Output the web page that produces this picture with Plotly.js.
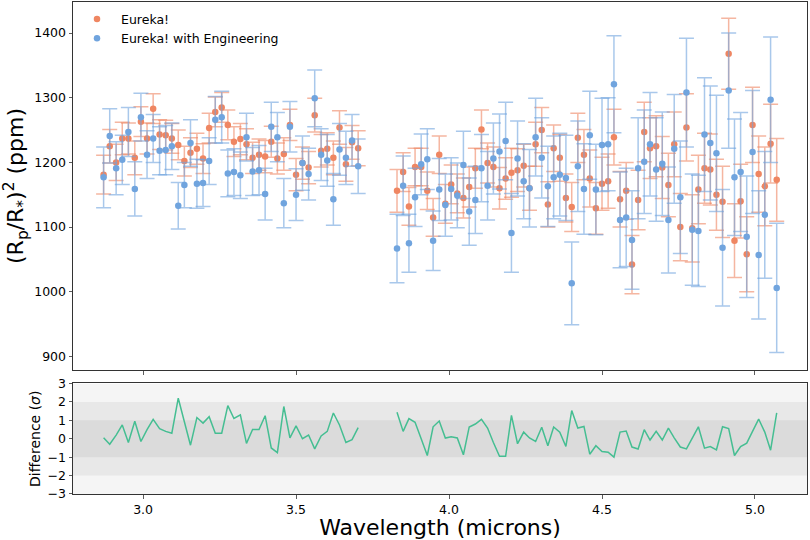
<!DOCTYPE html>
<html>
<head>
<meta charset="utf-8">
<script src="https://cdn.plot.ly/plotly-3.0.1.min.js"></script>
<style>html,body{margin:0;padding:0;background:#fff}#chart{width:810px;height:540px}</style>
</head>
<body>
<div id="chart"></div>
<script>
// Wavelength bins (microns), NRS1 and NRS2
const waveNRS1 = [2.871,2.891,2.912,2.932,2.952,2.973,2.993,3.013,3.033,3.054,3.074,3.094,3.115,3.135,3.155,3.176,3.196,3.216,3.236,3.257,3.277,3.297,3.318,3.338,3.358,3.379,3.399,3.419,3.439,3.460,3.480,3.500,3.521,3.541,3.561,3.582,3.602,3.622,3.642,3.663,3.683,3.703];
const waveNRS2 = [3.830,3.850,3.869,3.889,3.909,3.929,3.948,3.968,3.988,4.007,4.027,4.047,4.066,4.086,4.106,4.126,4.145,4.165,4.185,4.204,4.224,4.244,4.263,4.283,4.303,4.323,4.342,4.362,4.382,4.401,4.421,4.441,4.460,4.480,4.500,4.520,4.539,4.559,4.579,4.598,4.618,4.638,4.657,4.677,4.697,4.717,4.736,4.756,4.776,4.795,4.815,4.835,4.854,4.874,4.894,4.914,4.933,4.953,4.973,4.992,5.012,5.032,5.051,5.071];

// Eureka! transit depth (ppm)
const eurekaNRS1 = [1181,1225,1200,1237,1237,1207,1263,1237,1283,1243,1242,1237,1227,1202,1215,1221,1206,1253,1278,1285,1258,1232,1236,1228,1207,1212,1209,1232,1206,1213,1258,1181,1199,1192,1273,1218,1221,1207,1254,1197,1231,1222];
const eurekaNRS2 = [1156,1185,1132,1193,1193,1156,1115,1212,1136,1166,1152,1145,1162,1191,1251,1199,1193,1160,1175,1184,1188,1195,1160,1228,1250,1135,1222,1207,1145,1131,1238,1212,1175,1129,1167,1171,1239,1143,1156,1042,1142,1247,1222,1225,1192,1165,1228,1100,1254,1098,1158,1191,1189,1150,1139,1368,1079,1140,1058,1258,1182,1163,1229,1173];
const eurekaErrNRS1 = [30,26,28,25,24,26,23,24,23,23,23,23,23,23,23,24,23,23,23,23,23,23,24,24,24,24,25,24,24,25,24,25,25,25,26,25,25,26,26,26,26,27];
const eurekaErrNRS2 = [33,30,29,29,29,29,29,29,30,30,30,31,31,31,30,31,31,32,32,38,33,33,34,34,35,35,36,36,37,38,38,39,44,40,41,42,43,43,44,45,46,46,47,47,48,49,50,52,52,52,53,54,55,55,55,55,57,57,58,58,59,61,61,64];

// Eureka! with Engineering transit depth (ppm)
const engNRS1 = [1177,1241,1191,1204,1247,1159,1270,1212,1237,1218,1219,1225,1133,1165,1230,1167,1168,1202,1266,1270,1183,1185,1180,1239,1186,1188,1151,1255,1239,1137,1255,1150,1199,1182,1299,1212,1203,1143,1220,1207,1234,1194];
const engNRS2 = [1067,1164,1075,1146,1197,1205,1079,1158,1134,1159,1149,1196,1124,1142,1191,1164,1206,1217,1233,1091,1206,1171,1160,1239,1207,1163,1177,1181,1176,1013,1194,1159,1242,1158,1227,1228,1321,1111,1115,1080,1191,1201,1228,1189,1198,1111,1221,1146,1308,1096,1094,1243,1230,1214,1068,1311,1177,1185,1085,1216,1057,1119,1297,1006];
const engErrNRS1 = [47,42,41,38,38,42,37,37,37,37,38,36,36,35,36,38,36,36,36,40,36,36,36,37,37,38,40,38,38,38,39,40,42,40,44,40,40,40,40,41,40,42];
const engErrNRS2 = [53,46,45,45,47,47,46,48,48,48,50,52,52,52,52,53,55,58,60,61,58,58,60,60,62,62,64,64,66,64,70,70,68,70,72,72,75,74,76,76,78,80,80,80,80,82,84,87,84,86,86,88,88,90,90,89,90,92,94,95,99,98,97,100];

// Difference (sigma)
const diffNRS1 = [0.05,-0.3,0.2,0.75,-0.2,0.95,-0.15,0.5,1.05,0.55,0.4,0.3,2.2,1.0,-0.35,1.15,0.85,1.2,0.3,0.3,1.8,1.1,1.3,-0.25,0.5,0.5,1.25,-0.5,-0.75,1.75,0.05,0.7,0.0,0.2,-0.55,0.15,0.4,1.4,0.75,-0.2,-0.05,0.6];
const diffNRS2 = [1.44,0.4,1.09,0.89,0.0,-0.91,0.65,0.96,0.04,0.11,0.04,-0.87,0.64,0.8,1.05,0.58,-0.2,-0.95,-0.95,1.27,-0.27,0.36,0.04,-0.15,0.62,-0.38,0.64,0.35,-0.42,1.53,0.58,0.67,-0.84,-0.38,-0.69,-0.73,-1.0,0.36,0.42,-0.45,-0.56,0.49,-0.07,0.4,-0.07,0.58,0.05,-0.45,-0.55,0.04,0.65,-0.51,-0.42,-0.6,0.65,0.55,-0.91,-0.42,-0.24,0.4,1.07,0.36,-0.62,1.4];

// Sigma bands in the difference panel
const bandLevels = [3, 2, 1];
const bandColors = ['rgb(245,245,245)', 'rgb(232,232,232)', 'rgb(219,219,219)'];

const yTicksTop = [900,1000,1100,1200,1300,1400];
const yTicksBottom = [-3,-2,-1,0,1,2,3];
const xTicks = [3.0,3.5,4.0,4.5,5.0];

const FONT = 'DejaVu Sans, Liberation Sans, sans-serif';
const ORANGE = 'rgb(239,134,98)';
const BLUE = 'rgb(112,164,222)';
const AXC = '#333';

const wave = waveNRS1.concat([null], waveNRS2);
const eureka = eurekaNRS1.concat([null], eurekaNRS2);
const eurekaErr = eurekaErrNRS1.concat([null], eurekaErrNRS2);
const eng = engNRS1.concat([null], engNRS2);
const engErr = engErrNRS1.concat([null], engErrNRS2);
const diff = diffNRS1.concat([null], diffNRS2);

const traces = [
  {
    x: wave, y: eureka, type: 'scatter', mode: 'markers', name: 'Eureka!',
    xaxis: 'x', yaxis: 'y',
    marker: {color: ORANGE, size: 6.5},
    error_y: {type: 'data', array: eurekaErr, visible: true, color: 'rgba(239,134,98,0.6)', thickness: 1.5, width: 7.5}
  },
  {
    x: wave, y: eng, type: 'scatter', mode: 'markers', name: 'Eureka! with Engineering',
    xaxis: 'x', yaxis: 'y',
    marker: {color: BLUE, size: 6.5},
    error_y: {type: 'data', array: engErr, visible: true, color: 'rgba(112,164,222,0.6)', thickness: 1.5, width: 7.5}
  },
  {
    x: wave, y: diff, type: 'scatter', mode: 'lines', showlegend: false,
    xaxis: 'x2', yaxis: 'y2', connectgaps: false,
    line: {color: 'rgb(69,190,146)', width: 1.5}
  }
];

const shapes = bandLevels.map((lv, k) => ({
  type: 'rect', xref: 'x2 domain', yref: 'y2', x0: 0, x1: 1, y0: -lv, y1: lv,
  fillcolor: bandColors[k], line: {width: 0}, layer: 'below'
}));

const axisCommon = {
  showgrid: false, zeroline: false, showline: true, linecolor: AXC, linewidth: 1,
  mirror: true, ticks: 'outside', ticklen: 3.5, tickwidth: 0.8, tickcolor: AXC,
  tickfont: {family: FONT, size: 12.5, color: '#000'}
};

const layout = {
  width: 810, height: 540,
  margin: {l: 73, r: 3, t: 2, b: 46},
  paper_bgcolor: '#fff', plot_bgcolor: 'rgba(0,0,0,0)',
  font: {family: FONT, color: '#000'},
  showlegend: true,
  legend: {x: 0.0, y: 0.995, xanchor: 'left', yanchor: 'top', bgcolor: 'rgba(0,0,0,0)',
           font: {family: FONT, size: 12.5, color: '#000'}, tracegroupgap: 0, itemwidth: 38},
  xaxis: Object.assign({}, axisCommon, {
    domain: [0, 1], anchor: 'y', range: [2.771, 5.170], tickvals: xTicks, showticklabels: false
  }),
  yaxis: Object.assign({}, axisCommon, {
    domain: [0.252, 1], anchor: 'x', range: [879, 1448], tickvals: yTicksTop,
    title: {text: '(R<sub>p</sub>/R<sub>*</sub>)<sup>2</sup> (ppm)', font: {family: FONT, size: 22}, standoff: 4}
  }),
  xaxis2: Object.assign({}, axisCommon, {
    domain: [0, 1], anchor: 'y2', range: [2.771, 5.170], tickvals: xTicks, ticktext: ['3.0','3.5','4.0','4.5','5.0'],
    title: {text: 'Wavelength (microns)', font: {family: FONT, size: 22}, standoff: 1}
  }),
  yaxis2: Object.assign({}, axisCommon, {
    domain: [0, 0.2246], anchor: 'x2', range: [-3, 3], tickvals: yTicksBottom,
    title: {text: 'Difference (<i>σ</i>)', font: {family: FONT, size: 14}, standoff: 3}
  }),
  shapes: shapes
};

Plotly.newPlot('chart', traces, layout, {staticPlot: true, displayModeBar: false});
</script>
</body>
</html>
